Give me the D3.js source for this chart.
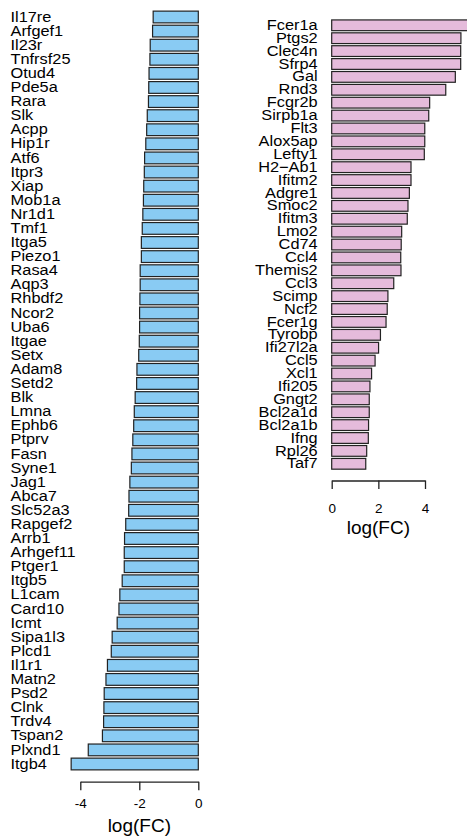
<!DOCTYPE html>
<html>
<head>
<meta charset="utf-8">
<script src="https://cdn.jsdelivr.net/npm/d3@7"></script>
<style>
  html, body { margin: 0; padding: 0; background: #fff; }
  svg { display: block; }
  text { font-family: "Liberation Sans", Arial, Helvetica, sans-serif; fill: #000; }
</style>
</head>
<body>
<svg id="chart" width="467" height="838"></svg>
<script>
// ---- Data ----
const downGenes = ["Il17re","Arfgef1","Il23r","Tnfrsf25","Otud4","Pde5a","Rara","Slk","Acpp","Hip1r","Atf6","Itpr3","Xiap","Mob1a","Nr1d1","Tmf1","Itga5","Piezo1","Rasa4","Aqp3","Rhbdf2","Ncor2","Uba6","Itgae","Setx","Adam8","Setd2","Blk","Lmna","Ephb6","Ptprv","Fasn","Syne1","Jag1","Abca7","Slc52a3","Rapgef2","Arrb1","Arhgef11","Ptger1","Itgb5","L1cam","Card10","Icmt","Sipa1l3","Plcd1","Il1r1","Matn2","Psd2","Clnk","Trdv4","Tspan2","Plxnd1","Itgb4"];
const downFC = [-1.53,-1.55,-1.63,-1.64,-1.67,-1.68,-1.69,-1.73,-1.75,-1.78,-1.82,-1.83,-1.85,-1.86,-1.88,-1.90,-1.93,-1.93,-1.97,-1.97,-1.98,-1.99,-1.99,-2.00,-2.02,-2.08,-2.09,-2.14,-2.17,-2.19,-2.22,-2.25,-2.27,-2.32,-2.35,-2.36,-2.46,-2.50,-2.51,-2.51,-2.58,-2.66,-2.69,-2.75,-2.92,-2.95,-3.08,-3.13,-3.19,-3.20,-3.21,-3.25,-3.73,-4.31];

const upGenes = ["Fcer1a","Ptgs2","Clec4n","Sfrp4","Gal","Rnd3","Fcgr2b","Sirpb1a","Flt3","Alox5ap","Lefty1","H2\u2212Ab1","Ifitm2","Adgre1","Smoc2","Ifitm3","Lmo2","Cd74","Ccl4","Themis2","Ccl3","Scimp","Ncf2","Fcer1g","Tyrobp","Ifi27l2a","Ccl5","Xcl1","Ifi205","Gngt2","Bcl2a1d","Bcl2a1b","Ifng","Rpl26","Taf7"];
const upFC = [5.9,5.54,5.53,5.53,5.30,4.89,4.20,4.16,3.99,3.99,3.97,3.40,3.40,3.33,3.27,3.24,3.00,2.98,2.96,2.97,2.66,2.41,2.38,2.33,2.09,2.01,1.86,1.71,1.64,1.61,1.61,1.58,1.57,1.50,1.46];

const downTicks = [-4, -2, 0];
const upTicks = [0, 2, 4];
const axisTitle = "log(FC)";

// ---- Drawing ----
const svg = d3.select("#chart");
const labelScaleX = 1.12;

function panel(opts) {
  const g = svg.append("g");
  const x = d3.scaleLinear().domain(opts.xDomain).range(opts.xRange);
  const y = d3.scaleBand().domain(opts.genes).range(opts.yRange)
    .paddingInner(1/6).paddingOuter(1/12);

  g.selectAll("rect.bar").data(opts.values).enter().append("rect")
    .attr("class", "bar")
    .attr("x", d => Math.min(x(0), x(d)))
    .attr("width", d => Math.abs(x(d) - x(0)))
    .attr("y", (d, i) => y(opts.genes[i]))
    .attr("height", y.bandwidth())
    .attr("fill", opts.fill)
    .attr("stroke", "#222")
    .attr("stroke-width", 1.2);

  g.selectAll("text.lab").data(opts.genes).enter().append("text")
    .attr("class", "lab")
    .attr("transform", d => `translate(${opts.labelX},${y(d) + y.bandwidth()/2 + 4.6}) scale(${labelScaleX},1)`)
    .attr("text-anchor", opts.labelAnchor)
    .style("font-size", "14.6px")
    .text(d => d);

  const axis = d3.axisBottom(x).tickValues(opts.ticks).tickSize(8.5).tickSizeOuter(0)
    .tickFormat(d3.format("d"));
  const ag = g.append("g").attr("transform", `translate(0,${opts.axisY})`).call(axis);
  ag.select(".domain").attr("stroke", "#222").attr("stroke-width", 1.3);
  ag.selectAll(".tick line").attr("stroke", "#222").attr("stroke-width", 1.3);
  ag.selectAll(".tick text")
    .attr("y", opts.tickTextY).attr("dy", 0)
    .style("font-size", "13.5px")
    .style("font-family", "Liberation Sans, Arial, sans-serif")
    .attr("fill", "#000")
    .text(d => d < 0 ? "-" + Math.abs(d) : String(d));

  g.append("text")
    .attr("x", (opts.xRange[0] + opts.xRange[1]) / 2)
    .attr("y", opts.titleY)
    .attr("text-anchor", "middle")
    .style("font-size", "19px")
    .text(axisTitle);
}

panel({
  genes: downGenes, values: downFC,
  xDomain: [-4, 0], xRange: [80.3, 198.3],
  yRange: [9.95, 771.05],
  fill: "#89CBF3",
  labelX: 10.5, labelAnchor: "start",
  ticks: downTicks, axisY: 781.7, tickTextY: 26.5, titleY: 831.5
});

panel({
  genes: upGenes, values: upFC,
  xDomain: [0, 4], xRange: [331.7, 425],
  yRange: [18.85, 470.25],
  fill: "#E5BBDB",
  labelX: 317.7, labelAnchor: "end",
  ticks: upTicks, axisY: 480.5, tickTextY: 32.5, titleY: 534
});
</script>
</body>
</html>
